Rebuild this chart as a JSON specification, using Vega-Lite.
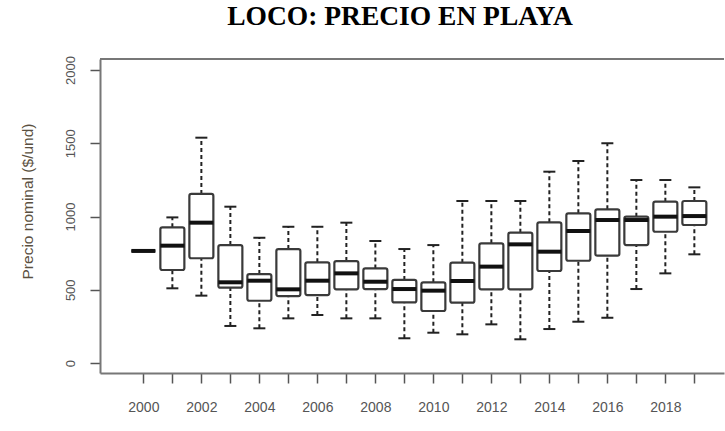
{
  "$schema": "https://vega.github.io/schema/vega-lite/v6.json",
  "width": 624,
  "height": 314,
  "autosize": {"type": "none"},
  "padding": {"left": 100, "top": 59, "right": 1, "bottom": 58},
  "background": "white",
  "config": {"view": {"stroke": null}, "font": "Liberation Sans"},
  "title": {
    "text": "LOCO: PRECIO EN PLAYA",
    "font": "Liberation Serif",
    "fontSize": 27.5,
    "fontWeight": "bold",
    "color": "#000000",
    "anchor": "middle",
    "frame": "group",
    "dx": -12,
    "offset": 25
  },
  "data": {
    "values": [
      {"year": 2000, "lower": 765, "q1": 765, "median": 765, "q3": 765, "upper": 765},
      {"year": 2001, "lower": 510, "q1": 635, "median": 801, "q3": 926, "upper": 994},
      {"year": 2002, "lower": 460, "q1": 715, "median": 958, "q3": 1154, "upper": 1538},
      {"year": 2003, "lower": 253, "q1": 514, "median": 551, "q3": 805, "upper": 1067},
      {"year": 2004, "lower": 237, "q1": 425, "median": 562, "q3": 607, "upper": 855},
      {"year": 2005, "lower": 305, "q1": 457, "median": 503, "q3": 778, "upper": 930},
      {"year": 2006, "lower": 328, "q1": 464, "median": 562, "q3": 687, "upper": 930},
      {"year": 2007, "lower": 305, "q1": 503, "median": 612, "q3": 696, "upper": 958},
      {"year": 2008, "lower": 305, "q1": 505, "median": 555, "q3": 646, "upper": 833},
      {"year": 2009, "lower": 169, "q1": 414, "median": 505, "q3": 567, "upper": 778},
      {"year": 2010, "lower": 207, "q1": 355, "median": 494, "q3": 551, "upper": 805},
      {"year": 2011, "lower": 196, "q1": 412, "median": 560, "q3": 685, "upper": 1106},
      {"year": 2012, "lower": 264, "q1": 503, "median": 658, "q3": 817, "upper": 1106},
      {"year": 2013, "lower": 162, "q1": 503, "median": 810, "q3": 890, "upper": 1106},
      {"year": 2014, "lower": 232, "q1": 628, "median": 760, "q3": 960, "upper": 1306},
      {"year": 2015, "lower": 282, "q1": 698, "median": 901, "q3": 1022, "upper": 1379},
      {"year": 2016, "lower": 309, "q1": 733, "median": 976, "q3": 1049, "upper": 1500},
      {"year": 2017, "lower": 505, "q1": 805, "median": 976, "q3": 999, "upper": 1249},
      {"year": 2018, "lower": 612, "q1": 896, "median": 999, "q3": 1101, "upper": 1249},
      {"year": 2019, "lower": 742, "q1": 942, "median": 1003, "q3": 1106, "upper": 1199}
    ]
  },
  "encoding": {
    "x": {
      "field": "year",
      "type": "quantitative",
      "scale": {"domain": [1998.677, 2019.85], "nice": false, "zero": false},
      "axis": {
        "values": [2000, 2001, 2002, 2003, 2004, 2005, 2006, 2007, 2008, 2009, 2010, 2011, 2012, 2013, 2014, 2015, 2016, 2017, 2018, 2019],
        "format": "d",
        "labelExpr": "datum.value % 2 == 0 ? datum.label : ''",
        "title": null,
        "grid": false,
        "domain": true,
        "domainColor": "#777777",
        "domainWidth": 2,
        "ticks": true,
        "tickSize": 10,
        "tickColor": "#555555",
        "tickWidth": 1.5,
        "labelFontSize": 14,
        "labelColor": "#555555",
        "labelPadding": 17,
        "labelFlush": false,
        "labelOverlap": false
      }
    }
  },
  "layer": [
    {
      "mark": {"type": "rule", "color": "#777777", "strokeWidth": 2},
      "encoding": {
        "x": null,
        "y": {"datum": 2075, "type": "quantitative"}
      }
    },
    {
      "mark": {"type": "rule", "color": "#222222", "strokeWidth": 2, "strokeDash": [4, 3]},
      "encoding": {
        "y": {
          "field": "lower",
          "type": "quantitative",
          "scale": {"domain": [-68, 2075], "nice": false, "zero": false},
          "axis": {
            "values": [0, 500, 1000, 1500, 2000],
            "format": "d",
            "title": "Precio nominal ($/und)",
            "titleFontSize": 15.5,
            "titleFontWeight": "normal",
            "titleColor": "#5a5040",
            "titleAngle": 270,
            "titleX": -73,
            "titleY": 142,
            "titleAlign": "center",
            "titleBaseline": "middle",
            "grid": false,
            "domain": true,
            "domainColor": "#777777",
            "domainWidth": 2,
            "tickSize": 10,
            "tickColor": "#555555",
            "tickWidth": 1.5,
            "labelAngle": 270,
            "labelAlign": "center",
            "labelBaseline": "bottom",
            "labelFontSize": 13,
            "labelColor": "#555555",
            "labelPadding": 13,
            "labelFlush": false,
            "labelOverlap": false
          }
        },
        "y2": {"field": "q1"}
      }
    },
    {
      "mark": {"type": "rule", "color": "#222222", "strokeWidth": 2, "strokeDash": [4, 3]},
      "encoding": {
        "y": {"field": "q3", "type": "quantitative"},
        "y2": {"field": "upper"}
      }
    },
    {
      "mark": {"type": "tick", "orient": "horizontal", "size": 12, "thickness": 2, "color": "#222222", "opacity": 1},
      "encoding": {"y": {"field": "lower", "type": "quantitative"}}
    },
    {
      "mark": {"type": "tick", "orient": "horizontal", "size": 12, "thickness": 2, "color": "#222222", "opacity": 1},
      "encoding": {"y": {"field": "upper", "type": "quantitative"}}
    },
    {
      "mark": {"type": "bar", "width": 24, "fill": "white", "stroke": "#3a3a3a", "strokeWidth": 2.2, "cornerRadius": 2, "opacity": 1},
      "encoding": {
        "y": {"field": "q1", "type": "quantitative"},
        "y2": {"field": "q3"}
      }
    },
    {
      "mark": {"type": "tick", "orient": "horizontal", "size": 24, "thickness": 4, "color": "#111111", "opacity": 1},
      "encoding": {"y": {"field": "median", "type": "quantitative"}}
    }
  ]
}
